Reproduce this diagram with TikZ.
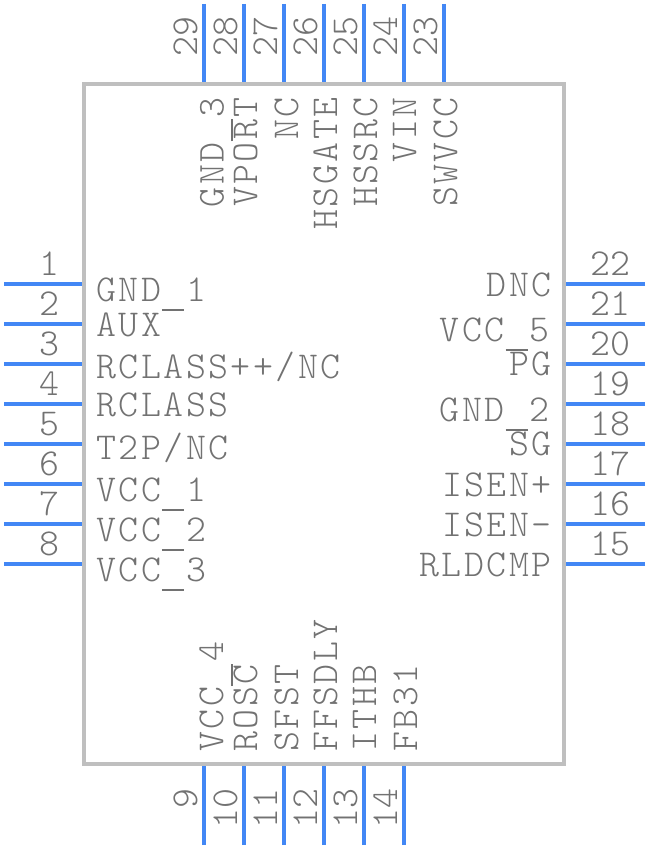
\documentclass[tikz,border=0pt]{standalone}
\usepackage{fontspec}
\setmonofont{Latin Modern Mono Light}[LetterSpace=6.6]
\newfontfamily\numfont{Latin Modern Mono Light}
\usetikzlibrary{backgrounds}
\definecolor{txtgray}{HTML}{727272}
\definecolor{boxgray}{HTML}{BFBFBF}
\definecolor{pinblue}{HTML}{4287F5}
\newcommand{\uscore}{\rlap{\hspace{0.8pt}\rule[-9.5pt]{22pt}{1.9pt}}\hspace{25pt}}
\tikzset{
  chipbox/.style={draw=boxgray,line width=4pt,minimum width=480pt,minimum height=680pt,inner sep=0pt},
  pinline/.style={draw=pinblue,line width=4pt},
  lab/.style={inner sep=0pt,text=txtgray,font=\fontsize{38pt}{38pt}\ttfamily},
  labw/.style={lab,anchor=base west},
  labe/.style={lab,anchor=base east},
  labvw/.style={lab,anchor=base west,rotate=90},
  labve/.style={lab,anchor=base east,rotate=90},
  num/.style={inner sep=0pt,text=txtgray,font=\fontsize{38pt}{38pt}\numfont},
  numh/.style={num,anchor=base},
  numt/.style={num,anchor=base,rotate=90},
  numb/.style={num,anchor=base east,rotate=90},
}
\begin{document}
\begin{tikzpicture}[x=1pt,y=-1pt]
\useasboundingbox (0,0) rectangle (648,848);
\node[chipbox] (chip) at (324,424) {};
\begin{scope}[on background layer]
\foreach \n/\y in {1/284,2/324,3/364,4/404,5/444,6/484,7/524,8/564}{
  \coordinate (pin\n) at (4,\y);
  \draw[pinline] (pin\n) -- (pin\n -| chip.west);
  \node[numh] (n\n) at (49.5,\y-9) {\n};
}
\foreach \n/\y in {22/284,21/324,20/364,19/404,18/444,17/484,16/524,15/564}{
  \coordinate (pin\n) at (645,\y);
  \draw[pinline] (pin\n) -- (pin\n -| chip.east);
  \node[numh] (n\n) at (610,\y-9) {\n};
}
\foreach \n/\x in {29/204,28/244,27/284,26/324,25/364,24/404,23/444}{
  \coordinate (pin\n) at (\x,4);
  \draw[pinline] (pin\n) -- (pin\n |- chip.north);
  \node[numt] (n\n) at (\x-7,37) {\n};
}
\foreach \n/\x in {9/204,10/244,11/284,12/324,13/364,14/404}{
  \coordinate (pin\n) at (\x,845);
  \draw[pinline] (pin\n) -- (pin\n |- chip.south);
  \node[numb] (n\n) at (\x-7,788) {\n};
}
\end{scope}
% left labels
\node[labw] (l1) at (96,301) {GND\uscore 1};
\node[labw] (l2) at (96,336) {AUX};
\node[labw] (l3) at (96,378) {RCLASS++/NC};
\node[labw] (l4) at (96,416) {RCLASS};
\node[labw] (l5) at (96,459) {T2P/NC};
\node[labw] (l6) at (96,501) {VCC\uscore 1};
\node[labw] (l7) at (96,541) {VCC\uscore 2};
\node[labw] (l8) at (96,581) {VCC\uscore 3};
% right labels
\node[labe] (l22) at (552,296) {DNC};
\node[labe] (l21) at (550,341) {VCC\uscore 5};
\node[labe] (l20) at (552,375) {PG};
\node[labe] (l19) at (550,421) {GND\uscore 2};
\node[labe] (l18) at (552,455) {SG};
\node[labe] (l17) at (552,496) {ISEN+};
\node[labe] (l16) at (552,536) {ISEN-};
\node[labe] (l15) at (552,576) {RLDCMP};
% top labels
\node[labve] (l29) at (223.5,97) {GND\uscore 3};
\node[labve] (l28) at (257,97) {VPORT};
\node[labve] (l27) at (298,97) {NC};
\node[labve] (l26) at (337,97) {HSGATE};
\node[labve] (l25) at (377,97) {HSSRC};
\node[labve] (l24) at (416,97) {VIN};
\node[labve] (l23) at (457,97) {SWVCC};
% bottom labels
\node[labvw] (l9) at (223,752) {VCC\uscore 4};
\node[labvw] (l10) at (257,752) {ROSC};
\node[labvw] (l11) at (298,752) {SFST};
\node[labvw] (l12) at (337,752) {FFSDLY};
\node[labvw] (l13) at (376,752) {ITHB};
\node[labvw] (l14) at (417,752) {FB31};
\end{tikzpicture}
\end{document}
